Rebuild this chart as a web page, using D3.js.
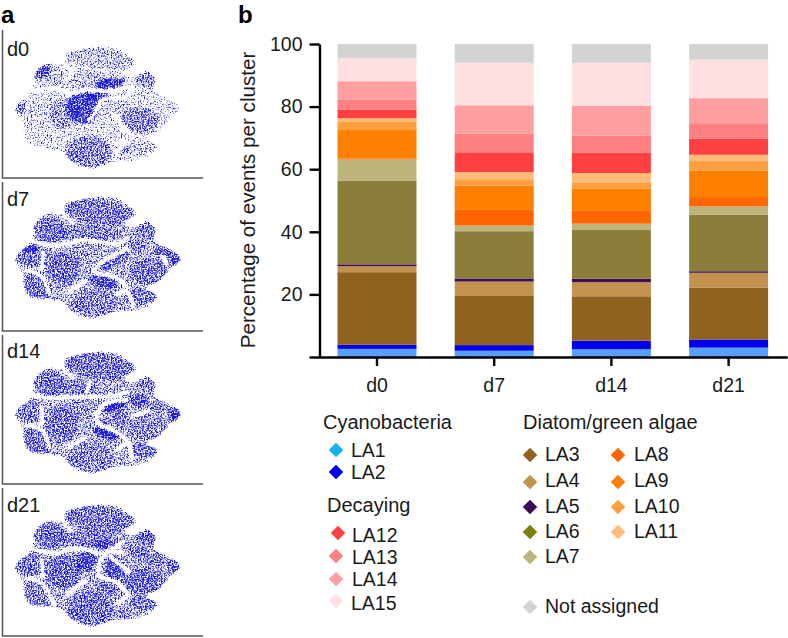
<!DOCTYPE html>
<html>
<head>
<meta charset="utf-8">
<script src="https://cdn.jsdelivr.net/npm/d3@7"></script>
<style>
  html, body { margin: 0; padding: 0; background: #fff; }
  svg { display: block; }
  text { font-family: "Liberation Sans", Arial, sans-serif; fill: #1a1a1a; }
</style>
</head>
<body>
<svg id="chart" width="788" height="638"></svg>
<script>
// Stacked bars, percentage per cluster
const days = ['d0', 'd7', 'd14', 'd21'];
const clusters = ['LA1', 'LA2', 'LA3', 'LA4', 'LA5', 'LA6', 'LA7', 'LA8', 'LA9', 'LA10', 'LA11', 'LA12', 'LA13', 'LA14', 'LA15', 'Not assigned'];
const la1 = [2.6, 2.0, 2.5, 3.0];
const la2 = [1.3, 1.8, 2.7, 2.6];
const la3 = [23.2, 15.7, 14.2, 16.6];
const la4 = [1.9, 4.6, 4.5, 4.7];
const la5 = [0.6, 1.0, 1.1, 0.5];
const la6 = [26.8, 15.1, 15.6, 18.0];
const la7 = [6.7, 1.8, 2.0, 2.7];
const la8 = [0.3, 5.0, 4.3, 3.0];
const la9 = [9.1, 7.7, 6.8, 8.4];
const la10 = [2.6, 2.1, 1.9, 3.1];
const la11 = [1.2, 2.3, 3.2, 2.0];
const la12 = [2.8, 6.3, 6.4, 5.2];
const la13 = [3.2, 6.0, 5.5, 4.9];
const la14 = [5.8, 9.0, 9.5, 8.0];
const la15 = [7.3, 13.6, 13.8, 12.3];
const notAssigned = [4.6, 6.0, 6.0, 5.0];
const yTicks = [0, 20, 40, 60, 80, 100];

// Panel a: the single events can't be read one by one, so each map is an
// estimate from the picture: one outline, the white gaps between islands, and
// denser lobes [cx, cy, rx, ry, angle, density]
const outline = [[190, 75], [240, 55], [340, 50], [390, 75], [412, 100], [375, 130], [400, 140], [440, 122], [470, 145],
  [465, 180], [490, 195], [545, 235], [520, 262], [470, 310], [440, 325], [475, 345], [440, 385], [340, 400], [280, 418],
  [210, 395], [190, 370], [150, 360], [80, 345], [65, 280], [42, 235], [95, 180], [100, 135], [140, 98], [190, 100]];
const baseDensity = [.48, .56, .56, .57];

const gapsD0 = [
  [[195, 105], [215, 130], [190, 155]],
  [[100, 185], [170, 175], [210, 190], [260, 180], [340, 185], [385, 170]],
  [[340, 250], [380, 300], [400, 320]],
  [[300, 215], [285, 250], [265, 272]],
  [[345, 340], [380, 335], [345, 370]],
  [[400, 165], [385, 195], [340, 210]]
];
const gapsD7 = [
  [[95, 183], [150, 195], [205, 190], [240, 180], [360, 190], [385, 170]],
  [[190, 105], [220, 130]],
  [[130, 215], [125, 270]],
  [[75, 268], [125, 290], [150, 345]],
  [[385, 205], [300, 250], [280, 275], [340, 290], [385, 325]],
  [[200, 340], [260, 300]],
  [[345, 345], [380, 335], [400, 380]],
  [[485, 225], [500, 255]]
];
const gapsD14 = [
  [[95, 180], [170, 190], [230, 185], [330, 185], [385, 170]],
  [[190, 105], [220, 130]],
  [[125, 215], [125, 270]],
  [[75, 270], [125, 285], [150, 340]],
  [[380, 195], [310, 210], [290, 260], [345, 290], [385, 320]],
  [[200, 340], [260, 305]],
  [[345, 350], [385, 325], [395, 375]],
  [[395, 245], [450, 225]],
  [[270, 135], [260, 175]]
];
const gapsD21 = [
  [[100, 183], [170, 195], [230, 180], [310, 195], [370, 160]],
  [[190, 105], [215, 130]],
  [[125, 215], [130, 270]],
  [[75, 270], [125, 285], [165, 360]],
  [[375, 195], [320, 195], [295, 240], [300, 265], [345, 280], [385, 320]],
  [[200, 320], [260, 275]],
  [[345, 350], [385, 325]],
  [[390, 255], [330, 205]]
];

const lobesD0 = [
  [300, 85, 105, 30, 6, .5], [150, 140, 50, 38, 30, .45], [128, 125, 28, 16, -35, 1.6],
  [255, 150, 70, 25, 0, .5], [330, 160, 45, 16, -8, 2], [435, 148, 35, 24, 10, 1],
  [110, 225, 60, 40, 0, .1], [60, 235, 14, 20, 0, 1.2], [250, 232, 50, 50, 0, 1.8],
  [295, 195, 38, 11, -15, 2], [190, 250, 45, 45, 0, .8], [110, 322, 50, 32, 30, .05],
  [265, 365, 70, 48, 0, 1.1], [420, 270, 60, 38, 0, 1.1], [490, 235, 55, 35, 0, 0],
  [350, 232, 40, 24, 0, .4], [320, 312, 42, 32, 0, 0], [425, 355, 48, 20, 0, .45],
  [372, 358, 15, 12, 0, 1.4]
];
const lobesD7 = [
  [300, 98, 110, 35, 8, .75], [150, 150, 52, 38, 10, .75], [270, 160, 95, 24, 0, .6],
  [435, 152, 35, 25, 15, .65], [100, 230, 55, 30, 0, .7], [90, 205, 25, 12, 0, 1.4],
  [110, 325, 50, 40, 35, .8], [190, 265, 50, 50, 0, .8], [250, 230, 40, 45, 0, .1],
  [345, 240, 45, 20, -25, .85], [315, 265, 15, 5, 0, 1.5], [410, 195, 25, 20, 0, .65],
  [445, 275, 55, 40, 0, .75], [490, 215, 30, 14, 0, 1.2], [525, 240, 18, 22, 0, 1.2],
  [310, 305, 45, 18, 15, 1.3], [290, 365, 70, 40, 0, .5], [250, 390, 50, 25, 0, .2],
  [420, 350, 50, 25, 0, .75], [370, 375, 25, 22, 0, .1]
];
const lobesD14 = [
  [300, 95, 110, 38, 8, .8], [150, 145, 52, 38, 10, .8], [310, 160, 60, 18, -5, .1],
  [240, 160, 50, 25, 0, .7], [435, 148, 35, 20, 10, .55], [415, 195, 28, 20, 0, 1.3],
  [90, 230, 45, 35, 0, .55], [110, 320, 50, 40, 35, .8], [185, 265, 50, 55, 0, .75],
  [240, 225, 50, 35, 0, .2], [345, 215, 38, 13, -20, 1.8], [360, 250, 28, 25, 0, .75],
  [315, 262, 10, 6, 0, 1.8], [440, 280, 58, 40, 0, .5], [470, 215, 35, 15, 0, .65],
  [525, 240, 18, 25, 0, 1.5], [320, 295, 42, 15, 15, 1.8], [270, 365, 70, 45, 0, .5],
  [435, 345, 40, 22, 0, .85], [370, 375, 25, 25, 0, .05]
];
const lobesD21 = [
  [300, 95, 108, 38, 8, .7], [150, 140, 52, 38, 10, .8], [270, 155, 85, 25, 0, .6],
  [310, 170, 30, 15, 0, 1], [435, 148, 35, 22, 10, .9], [415, 190, 28, 18, 0, .9],
  [90, 230, 50, 35, 0, .65], [115, 320, 48, 45, 30, .55], [190, 250, 55, 50, 0, .85],
  [260, 220, 30, 30, 0, 1.3], [345, 245, 30, 30, 0, 1.3], [330, 215, 30, 10, -25, .5],
  [430, 280, 60, 40, 0, .85], [465, 215, 35, 20, 0, .6], [520, 235, 20, 25, 0, .75],
  [270, 360, 70, 50, 0, .75], [320, 300, 35, 15, 15, .8], [430, 345, 42, 22, 0, .7],
  [370, 380, 25, 20, 0, .5]
];

const series = [la1, la2, la3, la4, la5, la6, la7, la8, la9, la10, la11, la12, la13, la14, la15, notAssigned];
const lobeSets = [lobesD0, lobesD7, lobesD14, lobesD21];
const gapSets = [gapsD0, gapsD7, gapsD14, gapsD21];

const barColors = ['#58a0ff', '#0000f0', '#8f621e', '#c4924f', '#3f0d57', '#8b7d3a', '#bdb47c', '#ff6600',
  '#ff8000', '#ff9f40', '#ffbc78', '#ff4040', '#ff8080', '#ff9fa0', '#ffdfe0', '#d3d3d3'];
const legendColors = ['#12b0ec', '#0000f0', '#8f621e', '#c4924f', '#3f0d57', '#7f7f10', '#bdb47c', '#ff6600',
  '#ff8000', '#ff9f40', '#ffbc78', '#ff4040', '#ff8080', '#ff9fa0', '#ffdfe0', '#d3d3d3'];

const svg = d3.select('#chart');

// Panel labels
svg.append('text').attr('x', 1).attr('y', 23).attr('font-size', 24).attr('font-weight', 'bold').style('fill', '#000').text('a');
svg.append('text').attr('x', 238).attr('y', 23).attr('font-size', 24).attr('font-weight', 'bold').style('fill', '#000').text('b');

// ---- Panel a ----
const defs = svg.append('defs');
const speckle = defs.append('filter').attr('id', 'speckle')
  .attr('x', 0).attr('y', 0).attr('width', 1).attr('height', 1)
  .attr('color-interpolation-filters', 'sRGB');
speckle.append('feGaussianBlur').attr('in', 'SourceAlpha').attr('stdDeviation', .9).attr('result', 'soft');
speckle.append('feTurbulence').attr('type', 'fractalNoise').attr('baseFrequency', .7)
  .attr('numOctaves', 3).attr('seed', 4).attr('result', 'noise');
speckle.append('feComposite').attr('in', 'soft').attr('in2', 'noise').attr('operator', 'arithmetic')
  .attr('k1', 0).attr('k2', 1).attr('k3', 1).attr('k4', -1).attr('result', 'mix');
speckle.append('feComponentTransfer').attr('in', 'mix').attr('result', 'dots')
  .append('feFuncA').attr('type', 'linear').attr('slope', 4).attr('intercept', 0);
speckle.append('feFlood').attr('flood-color', '#1818dc').attr('result', 'ink');
speckle.append('feComposite').attr('in', 'ink').attr('in2', 'dots').attr('operator', 'in');

const panelTops = [30, 182, 335, 488];
const panelBottoms = [178, 331, 484, 636];
const labelBaselines = [56, 206, 358, 512];
const mapOffsets = [30, 180, 335, 488];
const sx = d3.scaleLinear().domain([0, 600]).range([0, 200]);
const sy = d3.scaleLinear().domain([0, 450]).range([0, 150]);
const lobeAlpha = d3.scaleLinear().domain([0, 1]).range([0, .24]);
const shape = d3.line().x(d => sx(d[0])).y(d => sy(d[1]));

days.forEach((day, i) => {
  const g = svg.append('g');
  g.append('path')
    .attr('d', `M2.5,${panelTops[i]}V${panelBottoms[i]}H203`)
    .attr('fill', 'none').attr('stroke', '#555').attr('stroke-width', 1.5);
  g.append('text').attr('x', 7).attr('y', labelBaselines[i]).attr('font-size', 20).text(day);

  // gaps are cut out with a mask before the speckle is applied
  const mask = defs.append('mask').attr('id', `gaps-${day}`)
    .attr('maskUnits', 'userSpaceOnUse')
    .attr('x', 0).attr('y', 0).attr('width', 200).attr('height', 150);
  mask.append('rect').attr('width', 200).attr('height', 150).attr('fill', '#fff');
  mask.selectAll('path')
    .data(gapSets[i])
    .enter()
    .append('path')
    .attr('d', shape.curve(d3.curveCatmullRom))
    .attr('fill', 'none').attr('stroke', '#000').attr('stroke-width', 1.8);

  const cloud = g.append('g').attr('transform', `translate(0,${mapOffsets[i]})`).attr('filter', 'url(#speckle)');
  cloud.append('rect').attr('width', 200).attr('height', 150).attr('fill-opacity', 0);
  const inner = cloud.append('g').attr('mask', `url(#gaps-${day})`);
  inner.append('path')
    .attr('d', d3.line().x(d => sx(d[0])).y(d => sy(d[1])).curve(d3.curveCatmullRomClosed)(outline))
    .attr('fill', '#000')
    .attr('fill-opacity', baseDensity[i]);
  inner.selectAll('ellipse')
    .data(lobeSets[i])
    .enter()
    .append('ellipse')
    .attr('rx', d => sx(d[2]))
    .attr('ry', d => sy(d[3]))
    .attr('transform', d => `translate(${sx(d[0])},${sy(d[1])}) rotate(${d[4]})`)
    .attr('fill', '#000')
    .attr('fill-opacity', d => lobeAlpha(d[5]));
});

// ---- Panel b ----
const x = d3.scaleBand().domain(days).range([318.4, 787.2]).paddingInner(.326).paddingOuter(.163);
const y = d3.scaleLinear().domain([0, 100]).range([357, 44]);

const table = days.map((day, i) => {
  const row = { day };
  clusters.forEach((c, j) => { row[c] = series[j][i]; });
  return row;
});
const stacked = d3.stack().keys(clusters)(table);

svg.append('g').selectAll('g')
  .data(stacked)
  .enter()
  .append('g')
  .attr('fill', (d, i) => barColors[i])
  .selectAll('rect')
  .data(d => d)
  .enter()
  .append('rect')
  .attr('x', d => x(d.data.day))
  .attr('width', x.bandwidth())
  .attr('y', d => y(d[1]))
  .attr('height', d => y(d[0]) - y(d[1]));

const yAxis = svg.append('g').attr('transform', 'translate(319.5,0)')
  .call(d3.axisLeft(y).tickValues(yTicks).tickSize(10).tickPadding(7).tickSizeOuter(0)
    .tickFormat(d => d === 0 ? '' : d));
const xAxis = svg.append('g').attr('transform', 'translate(0,357)')
  .call(d3.axisBottom(x).tickSize(9).tickPadding(12).tickSizeOuter(0));
[yAxis, xAxis].forEach(a => {
  a.selectAll('path, line').attr('stroke', '#000').attr('stroke-width', 2.4);
  a.selectAll('text').attr('font-size', 19.5).style('fill', '#1a1a1a');
  a.attr('font-family', null);
});

svg.append('text')
  .attr('transform', 'translate(255,200) rotate(-90)')
  .attr('text-anchor', 'middle')
  .attr('font-size', 20.6)
  .text('Percentage of events per cluster');

// ---- Legend ----
const legendHeads = ['Cyanobacteria', 'Decaying', 'Diatom/green algae'];
const headLayout = [[323, 429], [327, 512], [523, 429]];
// marker x, marker y, text x, baseline, one per entry of clusters
const legendLayout = [
  [336, 450, 351, 457], [336, 472, 351, 479],
  [530, 455, 545, 461], [530, 482, 545, 487], [530, 507, 545, 513], [530, 532, 545, 538], [530, 557, 545, 563],
  [618, 455, 634, 461], [618, 482, 634, 487], [618, 507, 634, 513], [618, 532, 634, 538],
  [338, 533, 352, 542], [336, 556, 352, 564], [336, 579, 352, 586], [336, 601, 351, 610],
  [530, 607, 545, 613]
];

svg.append('g').selectAll('text')
  .data(legendHeads)
  .enter()
  .append('text')
  .attr('x', (d, i) => headLayout[i][0])
  .attr('y', (d, i) => headLayout[i][1])
  .attr('font-size', 20)
  .text(d => d);

const entry = svg.append('g').selectAll('g')
  .data(clusters)
  .enter()
  .append('g');
entry.append('path')
  .attr('d', d3.symbol(d3.symbolSquare, 105))
  .attr('transform', (d, i) => `translate(${legendLayout[i][0]},${legendLayout[i][1]}) rotate(45)`)
  .attr('fill', (d, i) => legendColors[i]);
entry.append('text')
  .attr('x', (d, i) => legendLayout[i][2])
  .attr('y', (d, i) => legendLayout[i][3])
  .attr('font-size', 19.5)
  .text(d => d);
</script>
</body>
</html>
